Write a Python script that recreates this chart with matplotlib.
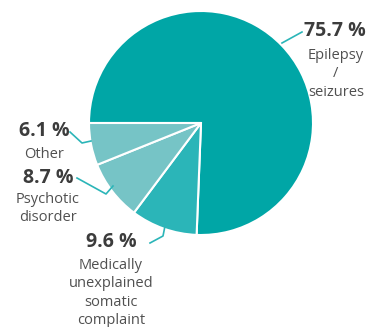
import matplotlib
matplotlib.use("Agg")
from matplotlib import pyplot as plt

labels = ["Epilepsy\n/\nseizures", "Medically\nunexplained\nsomatic\ncomplaint",
          "Psychotic\ndisorder", "Other"]
values = [75.7, 9.6, 8.7, 6.1]
colors = ["#00a6a6", "#2bb5b8", "#76c4c6", "#76c4c6"]

# label anchor (value text position) and leader lines, pixel coords from top
pct_pos = [(304, 31, "left"), (111, 242, "center"), (48, 178, "center"), (44, 131, "center")]
lbl_pos = [(336, 48), (111, 258), (48, 192), (44, 147)]
leaders = [[(282, 43), (302, 32)],
           [(150, 243), (163, 236), (165, 226)],
           [(77, 178), (106, 194), (113, 186)],
           [(70, 132), (82, 143), (91, 141)]]

W, H = 384, 327
fig = plt.figure(figsize=(3.84, 3.27), dpi=100)
ax = fig.add_axes([0, 0, 1, 1])

ax.pie(values, colors=colors, startangle=180, counterclock=False,
       center=(201, H - 123), radius=112, frame=True,
       wedgeprops=dict(edgecolor="white", linewidth=1.5))
ax.set_xlim(0, W)
ax.set_ylim(0, H)
ax.set_aspect("equal")
ax.axis("off")

for v, lab, (px, py, ha), (lx, ly), pts in zip(values, labels, pct_pos, lbl_pos, leaders):
    ax.text(px, H - py, f"{v} %", ha=ha, va="center", fontsize=14,
            fontweight="bold", color="#3c3c3c", family="Open Sans")
    ax.text(lx, H - ly, lab, ha="center", va="top", fontsize=10.5,
            color="#505050", family="Open Sans", linespacing=1.3)
    ax.plot([p[0] for p in pts], [H - p[1] for p in pts], color="#2bb5b8", lw=1.2)

fig.savefig("out.png", dpi=100)
